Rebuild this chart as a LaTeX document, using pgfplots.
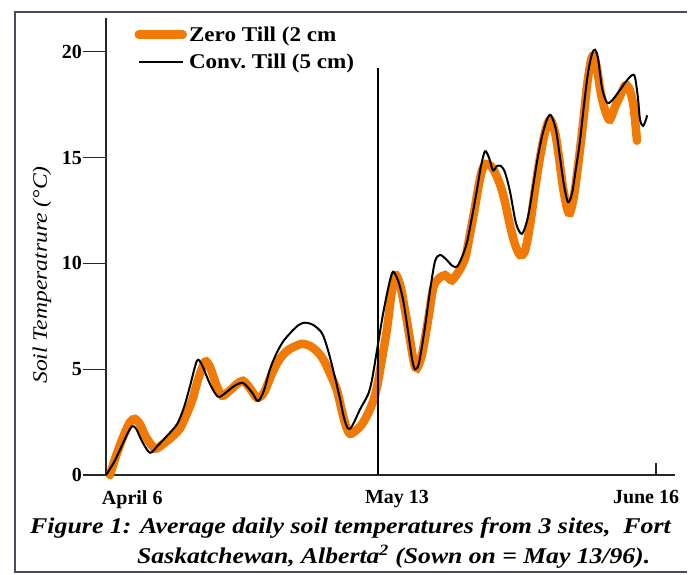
\documentclass[border=0pt]{standalone}
\usepackage{pgfplots}
\pgfplotsset{compat=1.18}
\usepackage{fontspec}
\setmainfont{Liberation Serif}
\definecolor{zt}{RGB}{240,122,5}
\definecolor{frm}{RGB}{70,78,95}

\pgfplotstableread{
x y
0 0
8 0.6
16 1.4
22 2.0
26 2.3
30 2.2
36 1.6
44 1.05
52 1.4
60 1.8
71 2.4
78 3.2
84 4.2
91 5.4
96 5.2
104 4.3
112 3.7
120 3.9
128 4.2
137 4.35
146 3.9
152 3.5
158 4.0
164 5.0
170 5.7
177 6.3
186 6.8
193 7.1
199 7.2
207 7.1
216 6.7
222 5.9
228 4.8
234 3.6
238 2.7
242 2.2
246 2.3
254 3.1
262 3.8
266 4.5
271 5.9
277 7.6
283 9.0
287 9.6
292 9.2
297 8.3
302 6.8
306 5.5
309 5.0
313 5.3
319 7.0
324 8.7
329 10.1
334 10.4
340 10.2
346 9.9
351 9.85
356 10.3
361 11.0
366 12.2
371 13.5
375 14.6
379 15.3
383 15.0
387 14.4
391 14.6
395 14.6
399 14.3
404 13.4
410 11.9
416 11.4
422 12.2
427 13.6
431 14.8
436 16.0
441 16.8
445 17.0
450 16.3
454 15.0
458 13.7
462 12.9
466 13.3
470 14.5
474 15.8
478 17.5
482 19.0
486 19.9
489 20.1
492 19.7
496 18.3
501 17.6
506 17.7
514 18.2
520 18.6
526 18.9
529 18.8
532 17.8
534 16.8
537 16.5
540 16.8
541 17.0
}\conv

\pgfplotstableread{
x y
4 0
10 0.9
18 1.9
24 2.5
29 2.65
34 2.4
40 1.8
49 1.25
58 1.5
66 1.8
74 2.2
80 2.8
86 3.5
92 4.5
99 5.35
104 5.1
110 4.3
116 3.75
124 4.0
131 4.3
137 4.45
144 4.1
151 3.65
158 3.9
166 4.8
174 5.5
182 5.9
190 6.1
196 6.2
204 6.1
212 5.8
218 5.4
224 4.8
231 4.0
236 3.0
240 2.3
244 1.95
250 2.1
256 2.4
262 2.9
268 3.6
272 4.4
276 5.5
281 6.9
285 8.4
289 9.45
294 9.0
299 7.8
304 6.4
308 5.3
311 5.05
316 5.7
322 7.3
327 8.8
331 9.2
336 9.4
339 9.45
343 9.3
346 9.2
351 9.5
356 9.9
360 10.4
364 11.4
368 12.4
372 13.5
376 14.4
380 14.7
385 14.6
390 14.2
395 13.6
399 12.9
404 11.8
409 10.9
414 10.4
419 10.6
424 11.8
429 13.5
434 15.0
439 16.2
444 16.8
449 16.2
453 15.0
457 13.6
461 12.6
464 12.4
468 13.2
472 14.6
477 16.6
481 18.4
485 19.6
488 19.8
491 19.2
495 18.0
500 17.1
504 16.8
509 17.4
514 17.9
519 18.4
523 18.3
527 17.6
529 16.8
531 15.8
}\zero

\begin{document}
\begin{tikzpicture}
\path[use as bounding box] (-106pt,-99pt) rectangle (582pt,475pt);
\begin{axis}[
  at={(0pt,0pt)}, anchor=origin,
  scale only axis, width=569pt, height=457pt,
  xmin=0, xmax=569, ymin=0, ymax=21.6,
  axis x line=bottom, axis y line=left,
  axis line style={-, line width=1.4pt, black!85},
  tick align=outside, major tick length=23pt,
  ytick={0,5,10,15,20},
  ytick style={line width=1.2pt, black!85},
  xtick={0,272,550},
  xtick style={draw=none},
  xticklabels={{\makebox[0pt][l]{\hspace{-4pt}April 6}},{\makebox[0pt][l]{\hspace{-13pt}May 13}},{\makebox[0pt][l]{\hspace{-43pt}June 16}}},
  xticklabel style={yshift=11pt},
  /pgf/number format/assume math mode=true,
  ticklabel style={font=\bfseries\fontsize{20}{20}\selectfont},
  yticklabel style={inner sep=1pt},
  ylabel={\scalebox{1.15}[1]{Soil Temperatrure (°C)}},
  ylabel style={font=\itshape\fontsize{20.5}{20.5}\selectfont, at={(axis description cs:-0.1125,0.4376)}, anchor=center},
  legend style={draw=none, fill=none, at={(axis description cs:0.048,0.988)}, anchor=north west,
     font=\bfseries\fontsize{21}{21}\selectfont, row sep=7pt, inner sep=1pt},
  legend cell align=left,
  legend image code/.code={\draw[#1] (0pt,0pt) -- (44pt,0pt);},
  clip=false,
]
\addplot[zt, line width=8.5pt, smooth, tension=0.5, line cap=round] table {\zero};
\addlegendentry{\scalebox{1.1}[1]{Zero Till (2 cm}}
\addplot[black, line width=2pt, smooth, tension=0.5] table {\conv};
\addlegendentry{\scalebox{1.1}[1]{Conv.\ Till (5 cm)}}
\addplot[black, line width=1.3pt, forget plot] coordinates {(272,0) (272,19.25)};
\addplot[black!85, line width=1.2pt, forget plot] coordinates {(550,0) (550,0.57)};
\end{axis}
\draw[frm, line width=1.8pt] (581pt,463pt) -- (-91pt,463pt) -- (-91pt,-97pt) -- (581pt,-97pt);
\node[anchor=base west, font=\bfseries\itshape\fontsize{22.5}{22.5}\selectfont, inner sep=0pt] at (-76pt,-58pt) {\scalebox{1.15}[1]{Figure 1: Average daily soil temperatures from 3 sites,\ \ Fort}};
\node[anchor=base west, font=\bfseries\itshape\fontsize{22.5}{22.5}\selectfont, inner sep=0pt] at (31pt,-88pt) {\scalebox{1.14}[1]{Saskatchewan, Alberta\textsuperscript{2} (Sown on = May 13/96).}};
\end{tikzpicture}
\end{document}
